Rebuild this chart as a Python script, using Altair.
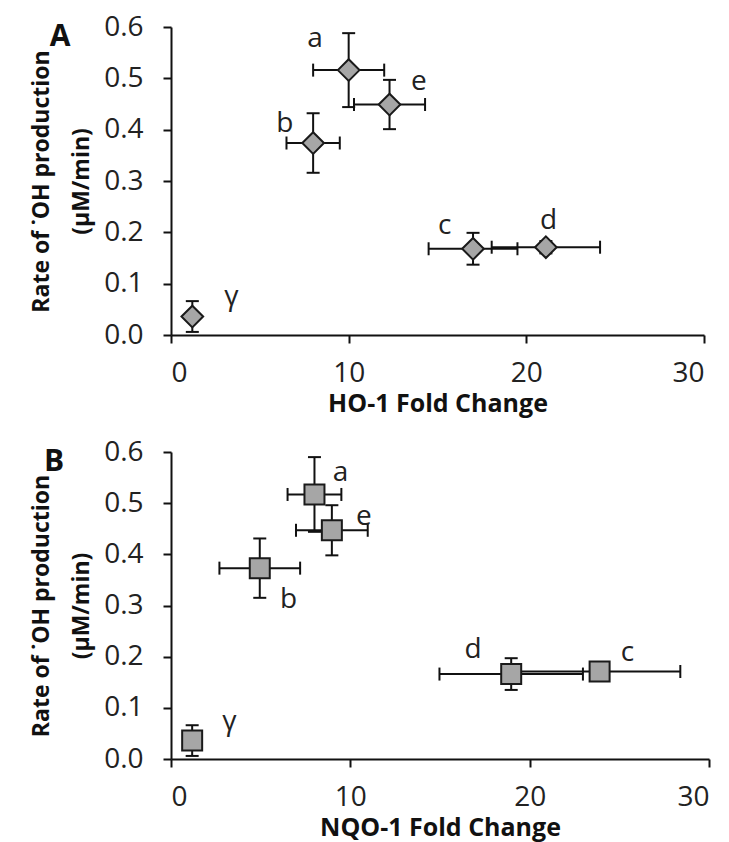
import altair as alt
import pandas as pd

# ---------------- data ----------------
labels = ["a", "b", "c", "d", "e", "γ"]
panel_letters = ["A", "B"]

# Panel A: HO-1
ho1_fold = [10.0, 8.0, 17.0, 21.1, 12.3, 1.2]
ho1_err = [2.0, 1.5, 2.5, 3.05, 2.0, 0.0]
rate_a = [0.516, 0.374, 0.168, 0.171, 0.449, 0.036]
rate_a_err = [0.072, 0.058, 0.031, 0.012, 0.048, 0.030]
label_a_x = [8.1, 6.4, 15.4, 21.25, 13.95, 3.4]
label_a_y = [0.577, 0.411, 0.213, 0.223, 0.493, 0.074]

# Panel B: NQO-1
nqo1_fold = [8.0, 4.95, 23.9, 18.97, 8.97, 1.18]
nqo1_err = [1.5, 2.25, 4.5, 4.0, 2.0, 0.0]
rate_b = [0.517, 0.373, 0.171, 0.166, 0.447, 0.036]
rate_b_err = [0.073, 0.058, 0.012, 0.031, 0.049, 0.030]
label_b_x = [9.46, 6.56, 25.45, 16.84, 10.75, 3.26]
label_b_y = [0.558, 0.311, 0.207, 0.213, 0.473, 0.073]

x_ticks = [0, 10, 20, 30]
y_ticks = [0.0, 0.1, 0.2, 0.3, 0.4, 0.5, 0.6]
y_title = ["Rate of ˙OH production", "(µM/min)"]

FONT = "Open Sans"


def panel(fold, ferr, rate, rerr, lx, ly, shape, marker_size, x_title, letter,
          letter_dx, width, height):
    df = pd.DataFrame({
        "label": labels,
        "fold": fold,
        "ferr": ferr,
        "rate": rate,
        "rerr": rerr,
        "lx": lx,
        "ly": ly,
    })
    df["xlo"] = df["fold"] - df["ferr"]
    df["xhi"] = df["fold"] + df["ferr"]
    df["ylo"] = df["rate"] - df["rerr"]
    df["yhi"] = df["rate"] + df["rerr"]

    xs = alt.Scale(domain=[0, 30], nice=False, zero=True)
    ys = alt.Scale(domain=[0, 0.6], nice=False, zero=True)
    xa = alt.Axis(values=x_ticks, title=x_title, format="d")
    ya = alt.Axis(values=y_ticks, title=y_title, format=".1f")

    def X(f):
        return alt.X(f, scale=xs, axis=xa, title=x_title)

    def Y(f):
        return alt.Y(f, scale=ys, axis=ya, title=y_title)

    base = alt.Chart(df)
    xerr = base.transform_filter("datum.ferr > 0")
    yerr = base.transform_filter("datum.rerr > 0")

    x_rule = xerr.mark_rule(color="#111", strokeWidth=2).encode(
        x=X("xlo:Q"), x2="xhi:Q", y=Y("rate:Q"))
    x_cap_lo = xerr.mark_tick(orient="vertical", size=13, thickness=2, color="#111", opacity=1).encode(
        x=X("xlo:Q"), y=Y("rate:Q"))
    x_cap_hi = xerr.mark_tick(orient="vertical", size=13, thickness=2, color="#111", opacity=1).encode(
        x=X("xhi:Q"), y=Y("rate:Q"))
    y_rule = yerr.mark_rule(color="#111", strokeWidth=2).encode(
        x=X("fold:Q"), y=Y("ylo:Q"), y2="yhi:Q")
    y_cap_lo = yerr.mark_tick(orient="horizontal", size=13, thickness=2, color="#111", opacity=1).encode(
        x=X("fold:Q"), y=Y("ylo:Q"))
    y_cap_hi = yerr.mark_tick(orient="horizontal", size=13, thickness=2, color="#111", opacity=1).encode(
        x=X("fold:Q"), y=Y("yhi:Q"))

    points = base.mark_point(shape=shape, filled=True, fill="#a6a6a6", stroke="#1a1a1a",
                             strokeWidth=2, size=marker_size, opacity=1).encode(
        x=X("fold:Q"), y=Y("rate:Q"))

    text = base.mark_text(font=FONT, fontSize=28, color="#222", align="center",
                          baseline="middle").encode(
        x=X("lx:Q"), y=Y("ly:Q"), text="label:N")

    letter_mark = alt.Chart(pd.DataFrame({"t": [letter]})).mark_text(
        font=FONT, fontSize=30, fontWeight="bold", color="#111",
        align="center", baseline="middle").encode(
        x=alt.value(letter_dx), y=alt.value(10), text="t:N")

    return alt.layer(x_rule, x_cap_lo, x_cap_hi, y_rule, y_cap_lo, y_cap_hi,
                     points, text, letter_mark).properties(width=width, height=height)


chart_a = panel(ho1_fold, ho1_err, rate_a, rate_a_err, label_a_x, label_a_y,
                "diamond", 470, "HO-1 Fold Change", panel_letters[0], -111, 533, 308)
chart_b = panel(nqo1_fold, nqo1_err, rate_b, rate_b_err, label_b_x, label_b_y,
                "square", 400, "NQO-1 Fold Change", panel_letters[1], -117, 538, 307)

chart = alt.vconcat(chart_a, chart_b, spacing=22).configure_view(
    stroke=None
).configure_axis(
    grid=False,
    domainColor="#111", domainWidth=2,
    tickColor="#111", tickWidth=2, tickSize=8,
    labelFont=FONT, labelFontSize=28, labelColor="#222", labelPadding=20,
    titleFont=FONT, titleFontSize=25, titleFontWeight="bold", titleColor="#111",
).configure_axisY(
    titlePadding=10, titleLineHeight=40, titleFontSize=23,
).configure_axisX(
    labelPadding=16, titlePadding=4,
).properties(
    background="white",
    padding={"left": 22, "top": 5, "right": 5, "bottom": 3},
)

chart.save("out.html", embed_options={"renderer": "svg", "actions": False})
